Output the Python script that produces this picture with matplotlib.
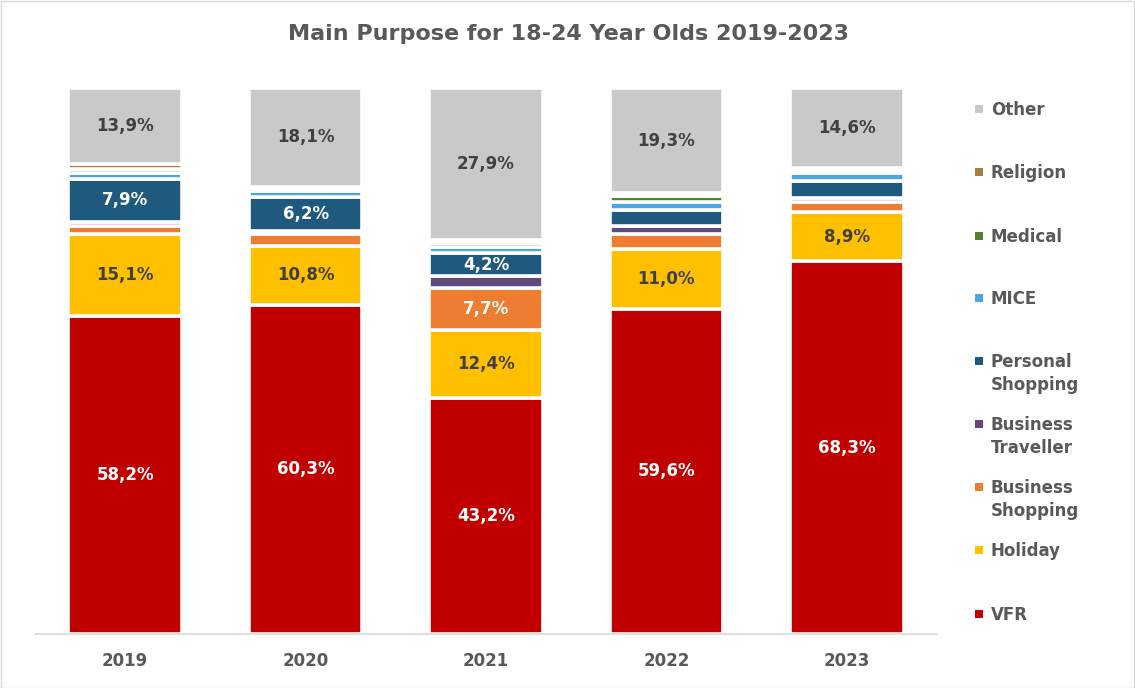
import matplotlib
matplotlib.use("Agg")
import matplotlib.pyplot as plt  # noqa: E402
from matplotlib.patches import Rectangle  # noqa: E402

years = ["2019", "2020", "2021", "2022", "2023"]

# stacked bottom-to-top, shares in %
categories = ["VFR", "Holiday", "Business\nShopping", "Business\nTraveller",
              "Personal\nShopping", "MICE", "Medical", "Religion", "Other"]
vfr = [58.2, 60.3, 43.2, 59.6, 68.3]
holiday = [15.1, 10.8, 12.4, 11.0, 8.9]
business_shopping = [1.5, 2.2, 7.7, 2.6, 1.9]
business_traveller = [0.7, 0.6, 2.2, 1.5, 0.8]
personal_shopping = [7.9, 6.2, 4.2, 2.9, 3.1]
mice = [1.1, 1.0, 1.1, 1.5, 1.4]
medical = [0.6, 0.4, 0.9, 1.1, 0.5]
religion = [1.0, 0.4, 0.4, 0.5, 0.5]
other = [13.9, 18.1, 27.9, 19.3, 14.6]

series = [vfr, holiday, business_shopping, business_traveller,
          personal_shopping, mice, medical, religion, other]
colors = ["#C00000", "#FFC000", "#ED7D31", "#604A7B", "#1F5A7E",
          "#4EA6DC", "#548235", "#A67C45", "#C9C9C9"]
label_colors = ["white", "#404040", "white", "white", "white",
                "white", "white", "white", "#404040"]

TEXT = "#595959"
FONT = "DejaVu Sans"

fig = plt.figure(figsize=(11.35, 6.88), dpi=100)
ax = fig.add_axes([35 / 1135, 1 - 634 / 688, 902 / 1135, 546 / 688])

x = range(len(years))
bottom = [0.0] * len(years)
for vals, col, lcol in zip(series, colors, label_colors):
    ax.bar(x, vals, width=0.63, bottom=bottom, color=col,
           edgecolor="white", linewidth=2.6)
    for i, v in enumerate(vals):
        if v >= 4:
            ax.text(i, bottom[i] + v / 2, f"{v:.1f}%".replace(".", ","),
                    ha="center", va="center", color=lcol, fontsize=12,
                    fontweight="bold", family=FONT)
    bottom = [b + v for b, v in zip(bottom, vals)]

ax.set_xlim(-0.5, len(years) - 0.5)
ax.set_ylim(0, 100)
ax.set_yticks([])
for s in ["left", "right", "top"]:
    ax.spines[s].set_visible(False)
ax.spines["bottom"].set_color("#D9D9D9")
ax.spines["bottom"].set_linewidth(1.2)
ax.set_xticks(list(x))
ax.set_xticklabels(years, fontsize=12, fontweight="bold", color=TEXT,
                   family=FONT)
ax.tick_params(axis="x", length=0, pad=13)

fig.text(568 / 1135, 1 - 34 / 688, "Main Purpose for 18-24 Year Olds 2019-2023",
         ha="center", va="center", fontsize=16, fontweight="bold",
         color=TEXT, family=FONT)

# legend, top entry first
legend_y = [109, 172, 236, 298, 361, 424, 487, 550, 614]
for (name, col), y in zip(reversed(list(zip(categories, colors))), legend_y):
    fig.add_artist(Rectangle((975 / 1135, 1 - (y + 4) / 688), 8 / 1135, 8 / 688,
                             transform=fig.transFigure, color=col, lw=0))
    fig.text(991 / 1135, 1 - (y - 8) / 688, name, ha="left", va="top",
             fontsize=12, fontweight="bold", color=TEXT, family=FONT,
             linespacing=1.38)

fig.add_artist(Rectangle((0.5 / 1135, 0.5 / 688), 1 - 1.5 / 1135, 1 - 1.5 / 688,
                         transform=fig.transFigure, fill=False,
                         edgecolor="#D9D9D9", lw=1))

fig.savefig("out.png", dpi=100)
plt.close(fig)
